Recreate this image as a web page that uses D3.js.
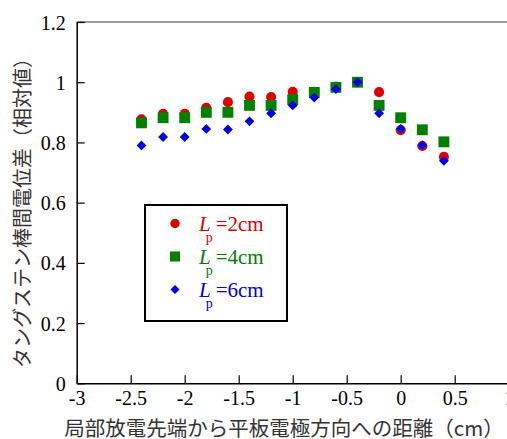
<!DOCTYPE html>
<html>
<head>
  <meta charset="utf-8">
  <title>タングステン棒間電位差</title>
  <script src="https://d3js.org/d3.v7.min.js"></script>
  <style>
    body { margin: 0; background: #fff; }
    svg { display: block; }
  </style>
</head>
<body>
<script>
  // data
  var distances = [-2.4, -2.2, -2.0, -1.8, -1.6, -1.4, -1.2, -1.0, -0.8, -0.6, -0.4, -0.2, 0.0, 0.2, 0.4];
  var lp2 = [0.877, 0.895, 0.895, 0.915, 0.934, 0.952, 0.951, 0.968, 0.968, 0.985, 1.0, 0.967, 0.841, 0.788, 0.752];
  var lp4 = [0.865, 0.882, 0.882, 0.900, 0.900, 0.923, 0.923, 0.942, 0.966, 0.983, 1.0, 0.923, 0.882, 0.842, 0.802];
  var lp6 = [0.790, 0.818, 0.818, 0.845, 0.843, 0.870, 0.897, 0.923, 0.949, 0.977, 1.0, 0.897, 0.845, 0.791, 0.739];
  var seriesNames = ["2cm", "4cm", "6cm"];
  var xTicks = [-3, -2.5, -2, -1.5, -1, -0.5, 0, 0.5, 1];
  var yTicks = [0, 0.2, 0.4, 0.6, 0.8, 1, 1.2];

  var W = 507, H = 439;
  var mLeft = 76.7, mRight = 508.7, mTop = 22, mBottom = 383.3;
  var serif = "Liberation Serif, serif";
  var cjk = "Noto Sans CJK JP, sans-serif";
  // plain hyphen for negatives, like the original
  var fmt = function (d) { return String(d); };

  var svg = d3.select("body").append("svg")
      .attr("width", W)
      .attr("height", H);

  var x = d3.scaleLinear().domain([-3, 1]).range([mLeft, mRight]);
  var y = d3.scaleLinear().domain([0, 1.2]).range([mBottom, mTop]);

  // top frame line (grey)
  svg.append("line")
      .attr("x1", mLeft).attr("x2", mRight)
      .attr("y1", mTop).attr("y2", mTop)
      .attr("stroke", "#777").attr("stroke-width", 1.5);

  /**
   * axes: ticks point inwards
   */
  var xAxis = svg.append("g")
      .attr("transform", "translate(0," + mBottom + ")")
      .call(d3.axisTop(x).tickValues(xTicks).tickSize(8).tickSizeOuter(0).tickFormat(fmt));
  xAxis.select(".domain").attr("stroke-width", 1.5);
  xAxis.selectAll(".tick line").attr("stroke-width", 1.2);
  xAxis.selectAll(".tick text")
      .attr("y", 22)
      .attr("dy", 0)
      .style("font-family", serif)
      .style("font-size", "20px")
      .attr("fill", "#000");

  var yAxis = svg.append("g")
      .attr("transform", "translate(" + mLeft + ",0)")
      .call(d3.axisRight(y).tickValues(yTicks).tickSize(8).tickSizeOuter(0).tickFormat(fmt));
  yAxis.select(".domain").attr("stroke-width", 1.5);
  yAxis.selectAll(".tick line").attr("stroke-width", 1.2);
  yAxis.selectAll(".tick text")
      .attr("x", -11)
      .attr("dy", "0.35em")
      .attr("text-anchor", "end")
      .style("font-family", serif)
      .style("font-size", "20px")
      .attr("fill", "#000");

  // axis titles
  svg.append("text")
      .attr("x", 284).attr("y", 436)
      .attr("text-anchor", "middle")
      .attr("font-family", cjk)
      .attr("font-size", 20.5)
      .attr("fill", "#333")
      .text("局部放電先端から平板電極方向への距離（cm）");

  svg.append("text")
      .attr("transform", "translate(30,208) rotate(-90)")
      .attr("text-anchor", "middle")
      .attr("font-family", cjk)
      .attr("font-size", 20)
      .attr("fill", "#333")
      .text("タングステン棒間電位差（相対値）");

  /**
   * markers: red circles, green squares, blue diamonds
   */
  var series = [
    { name: seriesNames[0], values: lp2, color: "#e00000", shape: d3.symbolCircle, size: 80, rot: 0 },
    { name: seriesNames[1], values: lp4, color: "#008000", shape: d3.symbolSquare, size: 118, rot: 0 },
    { name: seriesNames[2], values: lp6, color: "#0000e0", shape: d3.symbolSquare, size: 48, rot: 45 }
  ];

  series.forEach(function (s) {
    svg.append("g").selectAll("path")
        .data(distances)
        .enter()
        .append("path")
          .attr("transform", function (d, i) {
            return "translate(" + x(d) + "," + y(s.values[i]) + ") rotate(" + s.rot + ")";
          })
          .attr("d", d3.symbol().type(s.shape).size(s.size))
          .attr("fill", s.color);
  });

  // legend
  var lg = svg.append("g");
  lg.append("rect")
      .attr("x", 145).attr("y", 205)
      .attr("width", 142).attr("height", 116)
      .attr("fill", "#fff")
      .attr("stroke", "#000")
      .attr("stroke-width", 2);

  series.forEach(function (s, i) {
    var cy = 223.5 + i * 33;
    lg.append("path")
        .attr("transform", "translate(175," + cy + ") rotate(" + s.rot + ")")
        .attr("d", d3.symbol().type(s.shape).size(s.size * 0.85))
        .attr("fill", s.color);
    var t = lg.append("text")
        .attr("x", 199).attr("y", cy + 7)
        .attr("font-family", serif)
        .attr("font-size", 21)
        .attr("fill", s.color);
    t.append("tspan").attr("font-style", "italic").text("L");
    t.append("tspan").attr("dx", -5).attr("dy", 11).attr("font-size", 14).text("p");
    t.append("tspan").attr("dx", 3).attr("dy", -11).text("=" + s.name);
  });
</script>
</body>
</html>
